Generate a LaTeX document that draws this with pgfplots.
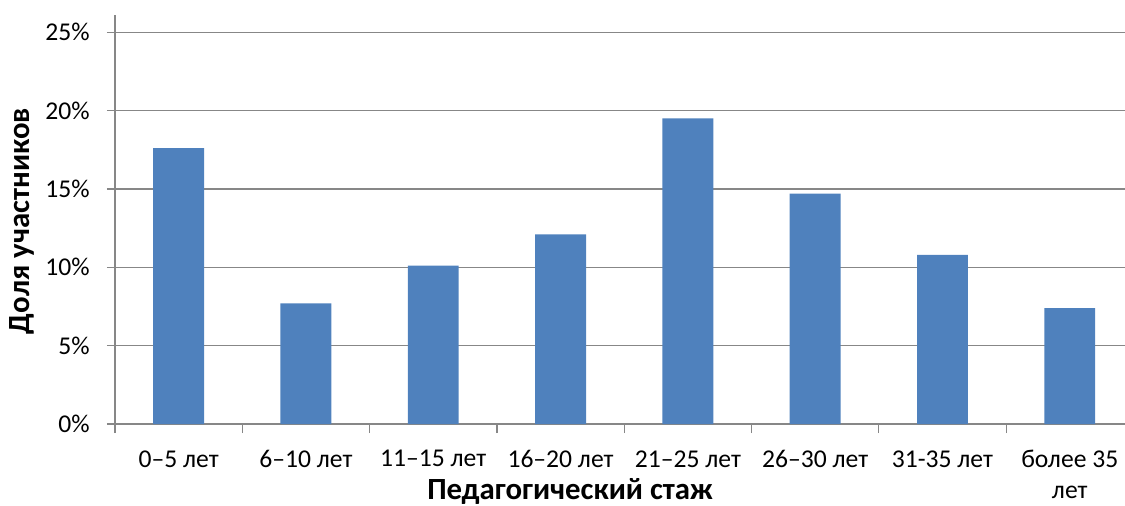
\documentclass[border=0pt]{standalone}
\usepackage{fontspec}
\setmainfont{Carlito}
\usepackage{pgfplots}
\pgfplotsset{compat=1.18}
\definecolor{barblue}{HTML}{4F81BD}
\definecolor{gridgray}{HTML}{878787}
\begin{document}
\begin{tikzpicture}
\begin{axis}[
  scale only axis, width=505pt, height=204.5pt,
  xmin=-0.5, xmax=7.434, ymin=0, ymax=26.1,
  axis x line*=bottom, axis y line*=left,
  axis line style={gridgray, line width=0.6pt},
  xtick={0,1,2,3,4,5,6,7},
  xticklabels={0–5 лет, 6–10 лет, 11–15 лет, 16–20 лет, 21–25 лет, 26–30 лет, 31-35 лет, {более 35\\лет}},
  minor xtick={-0.5,0.5,1.5,2.5,3.5,4.5,5.5,6.5},
  ytick={0,5,10,15,20,25},
  yticklabels={0\%,5\%,10\%,15\%,20\%,25\%},
  tick align=outside,
  major tick length=4pt, minor tick length=4.5pt,
  major x tick style={draw=none},
  minor x tick style={gridgray, line width=0.6pt},
  major y tick style={gridgray, line width=0.6pt},
  ymajorgrids, major grid style={gridgray, line width=0.6pt},
  ticklabel style={font=\fontsize{12.8}{15.5}\selectfont, text=black},
  yticklabel style={anchor=east, inner sep=0pt, xshift=-8.5pt},
  xticklabel style={anchor=north, inner sep=0pt, yshift=-9pt, align=center},
  xlabel={Педагогический стаж},
  ylabel={Доля участников},
  label style={font=\fontsize{15.4}{18}\selectfont\bfseries},
  xlabel style={at={(axis description cs:0.4505,-0.1834)}, anchor=base, inner sep=0pt},
  ylabel style={at={(axis description cs:-0.0842,0.496)}, anchor=base},
  clip=false,
]
\addplot[ybar, bar width=0.4, fill=barblue, draw=none] coordinates {
  (0,17.6) (1,7.7) (2,10.1) (3,12.1) (4,19.5) (5,14.7) (6,10.8) (7,7.4)
};
\end{axis}
\pgfresetboundingbox
\path (-57.5pt,-40.5pt) rectangle (505pt,212pt);
\end{tikzpicture}
\end{document}
